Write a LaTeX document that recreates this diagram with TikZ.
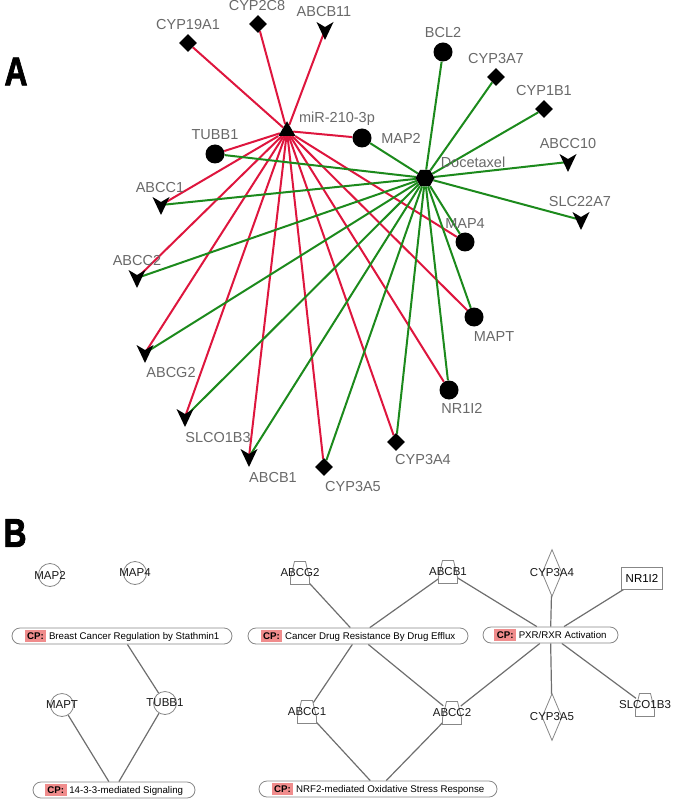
\documentclass[tikz,border=0pt]{standalone}
\usepackage{fontspec}
\setmainfont{Liberation Sans}
\newfontfamily\heavyfont{Liberation Sans Bold}[FakeBold=2]
\usetikzlibrary{shapes.geometric}
\definecolor{ered}{RGB}{222,22,62}
\definecolor{egreen}{RGB}{28,138,28}
\definecolor{labgray}{RGB}{105,105,105}
\definecolor{cpred}{RGB}{240,140,140}
\definecolor{bline}{RGB}{110,110,110}
\definecolor{bshape}{RGB}{135,135,135}
\pgfdeclarelayer{bg}
\pgfsetlayers{bg,main}
\newcommand{\cptag}{{\setlength{\fboxsep}{2.5pt}\colorbox{cpred}{\bfseries CP:}}}
\begin{document}
\begin{tikzpicture}[x=1pt,y=-1pt,
  alab/.style={font=\fontsize{14.5}{17}\selectfont, text=labgray, inner sep=0},
  panel/.style={font=\heavyfont\fontsize{40}{40}\selectfont, inner sep=0, xscale=0.8, transform shape},
  tri/.style={regular polygon, regular polygon sides=3, fill=black, minimum size=19.5pt, inner sep=0},
  hex/.style={regular polygon, regular polygon sides=6, fill=black, minimum size=19pt, inner sep=0},
  dot/.style={circle, fill=black, minimum size=19pt, inner sep=0},
  dia/.style={diamond, fill=black, minimum width=18pt, minimum height=18pt, inner sep=0},
  tp/.style={coordinate},
  vtip/.pic={\fill (-8.5,-8) -- (0,-3) -- (8.5,-8) -- (0,10) -- cycle;},
  btrap/.pic={\filldraw[draw=bshape, fill=white, line width=0.8pt] (-5.5,-11.5) -- (5.5,-11.5) -- (9.5,5) -- (9.5,11.5) -- (-9.5,11.5) -- (-9.5,5) -- cycle;},
  redge/.style={draw=ered, line width=2pt},
  gedge/.style={draw=egreen, line width=2pt},
  blab/.style={font=\fontsize{11.5}{13}\selectfont, text=black!90, inner sep=0},
  bcirc/.style={circle, draw=bshape, line width=0.8pt, fill=white, minimum size=23pt, inner sep=0},
  bhold/.style={circle, minimum size=22pt, inner sep=0},
  bdia/.style={diamond, draw=bshape, fill=white, line width=0.8pt, minimum width=20pt, minimum height=47pt, inner sep=0},
  brect/.style={rectangle, draw=bshape, line width=0.8pt, fill=white, minimum width=41pt, minimum height=22pt, inner sep=0, font=\fontsize{11.5}{13}\selectfont},
  pill/.style={rectangle, rounded corners=8pt, draw=bshape, line width=0.8pt, fill=white, minimum height=16pt, inner sep=0, font=\fontsize{9.7}{11}\selectfont},
  bedge/.style={draw=bline, line width=1.2pt}
]
\useasboundingbox (0,0) rectangle (672,799);

% ---------------- Panel A ----------------
\node[panel] (pa) at (16,71.5) {A};

\node[tri] (mir) at (287,131) {};
\node[hex] (doc) at (425,178) {};
\node[alab] (lmir) at (337,119) {miR-210-3p};
\node[alab] (ldoc) at (473,162) {Docetaxel};

\node[dia] (cyp19a1) at (188,43) {};
\node[dia] (cyp2c8) at (258,24) {};
\node[tp] (abcb11) at (325,30) {};
\node[dot] (bcl2) at (443,52) {};
\node[dia] (cyp3a7) at (496,77) {};
\node[dia] (cyp1b1) at (544,109) {};
\node[tp] (abcc10) at (568,162) {};
\node[tp] (slc22a7) at (581,220) {};
\node[dot] (map2) at (362,138) {};
\node[dot] (tubb1) at (215,154) {};
\node[tp] (abcc1) at (161,205) {};
\node[tp] (abcc2) at (137,278) {};
\node[tp] (abcg2) at (145,353) {};
\node[tp] (slco1b3) at (185,417) {};
\node[tp] (abcb1) at (249,457) {};
\node[dia] (cyp3a5) at (324,467) {};
\node[dia] (cyp3a4) at (396,442) {};
\node[dot] (nr1i2) at (449,390) {};
\node[dot] (mapt) at (474,317) {};
\node[dot] (map4) at (465,242) {};

\foreach \n in {abcb11,abcc10,slc22a7,abcc1,abcc2,abcg2,slco1b3,abcb1}
  \pic at (\n) {vtip};

\node[alab] at (188,25) {CYP19A1};
\node[alab] at (257,6) {CYP2C8};
\node[alab] at (324,12) {ABCB11};
\node[alab] at (443,33) {BCL2};
\node[alab] at (496,59) {CYP3A7};
\node[alab] at (544,91) {CYP1B1};
\node[alab] at (568,144) {ABCC10};
\node[alab] at (580,202) {SLC22A7};
\node[alab] at (401,138) {MAP2};
\node[alab] at (215,135) {TUBB1};
\node[alab] at (160,188) {ABCC1};
\node[alab] at (137,261) {ABCC2};
\node[alab] at (171,373) {ABCG2};
\node[alab] at (218,438) {SLCO1B3};
\node[alab] at (273,478) {ABCB1};
\node[alab] at (353,487) {CYP3A5};
\node[alab] at (423,460) {CYP3A4};
\node[alab] at (462,408) {NR1I2};
\node[alab] at (494,337) {MAPT};
\node[alab] at (465,224) {MAP4};

\begin{pgfonlayer}{bg}
  \foreach \n in {cyp19a1,cyp2c8,abcb11,map2,tubb1,abcc1,abcc2,abcg2,slco1b3,abcb1,cyp3a5,cyp3a4,nr1i2,mapt,map4}
    \draw[redge] (mir) -- (\n);
  \foreach \n in {bcl2,cyp3a7,cyp1b1,abcc10,slc22a7,map2,tubb1,abcc1,abcc2,abcg2,slco1b3,abcb1,cyp3a5,cyp3a4,nr1i2,mapt,map4}
    \draw[gedge] (doc) -- (\n);
\end{pgfonlayer}

% ---------------- Panel B ----------------
\node[panel] (pb) at (15,533) {B};

\node[bcirc, label={[blab]center:MAP2}] (bmap2) at (50,575) {};
\node[bcirc, label={[blab]center:MAP4}] (bmap4) at (135,573) {};
\node[bcirc, label={[blab]center:MAPT}] (bmapt) at (62,705) {};
\node[bcirc, label={[blab]center:TUBB1}] (btubb1) at (165,703) {};
\node[bhold] (babcg2) at (300,573) {};
\node[bhold] (babcb1) at (448,572) {};
\node[bhold] (babcc1) at (307,712) {};
\node[bhold] (babcc2) at (452,713) {};
\node[bhold] (bslco1b3) at (645,705) {};
\foreach \n in {babcg2,babcb1,babcc1,babcc2,bslco1b3}
  \pic at (\n) {btrap};
\node[blab] at (babcg2) {ABCG2};
\node[blab] at (babcb1) {ABCB1};
\node[blab] at (babcc1) {ABCC1};
\node[blab] at (babcc2) {ABCC2};
\node[blab] at (bslco1b3) {SLCO1B3};
\node[bdia, label={[blab]center:CYP3A4}] (bcyp3a4) at (552,573) {};
\node[bdia, label={[blab]center:CYP3A5}] (bcyp3a5) at (552,717) {};
\node[brect] (bnr1i2) at (642,578) {NR1I2};

\node[pill, minimum width=220pt] (pbreast) at (122,636) {\cptag\ Breast Cancer Regulation by Stathmin1};
\node[pill, minimum width=162pt] (p1433) at (114,790) {\cptag\ 14-3-3-mediated Signaling};
\node[pill, minimum width=220pt] (pdrug) at (358,636) {\cptag\ Cancer Drug Resistance By Drug Efflux};
\node[pill, minimum width=238pt] (pnrf2) at (378,789) {\cptag\ NRF2-mediated Oxidative Stress Response};
\node[pill, minimum width=135pt] (ppxr) at (550.5,635) {\cptag\ PXR/RXR Activation};

\begin{pgfonlayer}{bg}
  \draw[bedge] (pbreast) -- (btubb1);
  \draw[bedge] (p1433) -- (bmapt);
  \draw[bedge] (p1433) -- (btubb1);
  \draw[bedge] (pdrug) -- (babcg2);
  \draw[bedge] (pdrug) -- (babcb1);
  \draw[bedge] (pdrug) -- (babcc1);
  \draw[bedge] (pdrug) -- (babcc2);
  \draw[bedge] (pnrf2) -- (babcc1);
  \draw[bedge] (pnrf2) -- (babcc2);
  \draw[bedge] (ppxr) -- (babcb1);
  \draw[bedge] (ppxr) -- (bcyp3a4);
  \draw[bedge] (ppxr) -- (bnr1i2);
  \draw[bedge] (ppxr) -- (babcc2);
  \draw[bedge] (ppxr) -- (bcyp3a5);
  \draw[bedge] (ppxr) -- (bslco1b3);
\end{pgfonlayer}
\end{tikzpicture}
\end{document}
